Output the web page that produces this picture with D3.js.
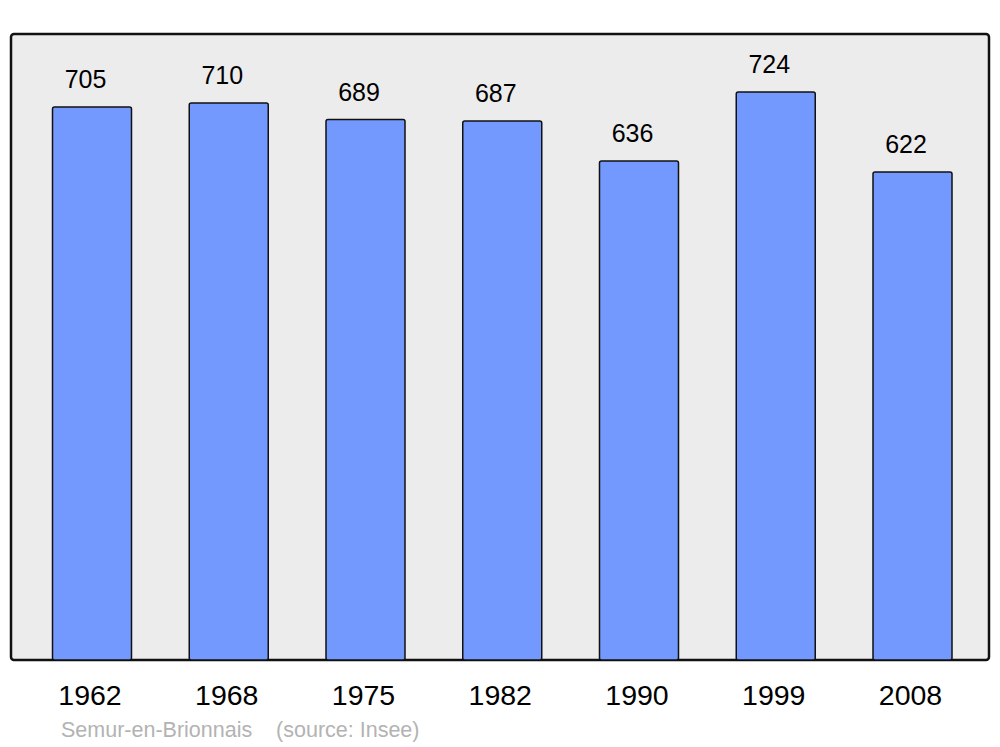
<!DOCTYPE html>
<html>
<head>
<meta charset="utf-8">
<script src="https://cdn.jsdelivr.net/npm/d3@7"></script>
<style>
  body { margin: 0; background: #fff; }
  text { font-family: "Liberation Sans", Arial, sans-serif; }
</style>
</head>
<body>
<div id="chart-area"></div>
<script>
// population data
var years = ["1962", "1968", "1975", "1982", "1990", "1999", "2008"];
var population = [705, 710, 689, 687, 636, 724, 622];
var commune = "Semur-en-Brionnais";
var source = "(source: Insee)";

var W = 1000, H = 747;
var panel = {left: 11, top: 34, right: 989, bottom: 660};

var svg = d3.select("#chart-area").append("svg")
    .attr("width", W)
    .attr("height", H);

// background panel
svg.append("rect")
    .attr("x", panel.left)
    .attr("y", panel.top)
    .attr("width", panel.right - panel.left)
    .attr("height", panel.bottom - panel.top)
    .attr("rx", 3)
    .attr("fill", "#ececec")
    .attr("stroke", "#111")
    .attr("stroke-width", 2.5);

var x = d3.scaleBand()
    .domain(years)
    .range([52.5, 952])
    .paddingInner(0.4223)
    .paddingOuter(0);

var y = d3.scaleLinear()
    .domain([0, 798])
    .range([panel.bottom, panel.top]);

var data = years.map(function(d, i) { return {year: d, value: population[i]}; });

svg.selectAll(".bar")
    .data(data)
    .enter().append("rect")
    .attr("class", "bar")
    .attr("x", function(d) { return x(d.year); })
    .attr("y", function(d) { return y(d.value); })
    .attr("width", x.bandwidth())
    .attr("height", function(d) { return panel.bottom - y(d.value); })
    .attr("rx", 2)
    .attr("fill", "#7399ff")
    .attr("stroke", "#111")
    .attr("stroke-width", 1.5);

// value labels
svg.selectAll(".val")
    .data(data)
    .enter().append("text")
    .attr("class", "val")
    .attr("x", function(d) { return x(d.year) + x.bandwidth() / 2 - 6.5; })
    .attr("y", function(d) { return y(d.value) - 19; })
    .attr("text-anchor", "middle")
    .attr("font-size", 25)
    .attr("fill", "#000")
    .text(function(d) { return d.value; });

// year axis (no line, no ticks)
var xAxis = d3.axisBottom(x).tickSize(0).tickPadding(0);
var gx = svg.append("g")
    .attr("transform", "translate(-2," + (panel.bottom + 25) + ")")
    .call(xAxis);
gx.select(".domain").remove();
gx.selectAll("text")
    .attr("font-size", 28.5)
    .attr("font-family", "Liberation Sans, Arial, sans-serif")
    .attr("fill", "#000")
    .attr("dy", "0.71em");

// caption
svg.append("text")
    .attr("x", 61)
    .attr("y", 737)
    .attr("font-size", 21.5)
    .attr("fill", "#b3b3b3")
    .attr("xml:space", "preserve")
    .text(commune + "    " + source);
</script>
</body>
</html>
